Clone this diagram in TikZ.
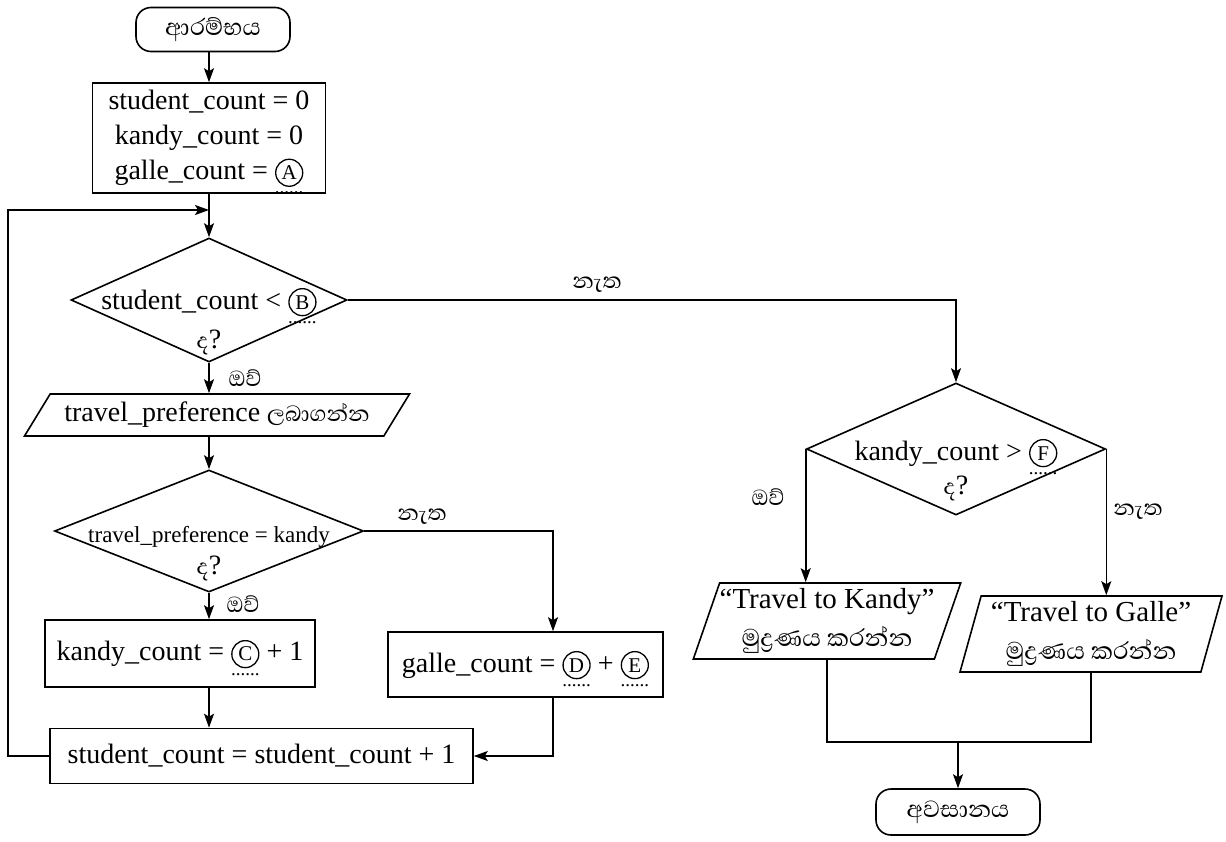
\documentclass[tikz,border=0pt]{standalone}
\usepackage{fontspec}
\setmainfont{Liberation Serif}
\newfontfamily\sinhf[Script=Sinhala]{Abhaya Libre}
\usetikzlibrary{shapes.geometric,arrows.meta}
\newcommand\circl[1]{\tikz[baseline=(cl#1.base)]\node[draw,circle,line width=1.3pt,inner sep=0pt,minimum size=27pt,font=\fontsize{21}{21}\selectfont](cl#1){#1};}
\newcommand\ans[1]{\raisebox{0pt}[\height][0pt]{\vtop{\offinterlineskip\halign{\hfil##\hfil\cr\circl{#1}\cr\noalign{\kern5pt}{\fontsize{19}{19}\selectfont......}\cr}}}}
\tikzset{
 lw/.style={line width=1.6pt},
 base/.style={draw, lw, inner sep=0pt, align=center, font=\fontsize{28}{35}\selectfont},
 term/.style={base, rectangle, rounded corners=15pt, font=\sinhf\fontsize{30}{32}\selectfont},
 proc/.style={base, rectangle},
 dec/.style={draw, lw, diamond, inner sep=0pt},
 io/.style={base, trapezium, trapezium stretches body},
 txt/.style={inner sep=0pt, font=\fontsize{28}{35}\selectfont},
 lab/.style={inner sep=0pt, font=\sinhf\fontsize{28}{30}\selectfont},
 outbox/.style={io, font=\fontsize{29}{38}\selectfont},
 arr/.style={lw, -{Stealth[length=14pt,width=10pt,inset=3pt]}},
 ln/.style={lw},
}
\begin{document}
\begin{tikzpicture}[x=1pt,y=-1pt]
\useasboundingbox (0,0) rectangle (1226,841);
% nodes
\node[term, minimum width=154pt, minimum height=44pt] (start) at (213,29.5) {ආරම්භය};
\node[proc, minimum width=233pt, minimum height=110pt] (init) at (209,138) {student\_count = 0\\kandy\_count = 0\\galle\_count = \ans{A}};
\node[dec, minimum width=276pt, minimum height=124pt] (d1) at (209,300) {};
\node[txt, anchor=base] (d1a) at (209,309) {student\_count < \ans{B}};
\node[txt, anchor=base] (d1b) at (209,348) {{\sinhf ද}?};
\node[io, trapezium left angle=45, trapezium right angle=135, minimum width=385pt, minimum height=42pt] (p1) at (217,415) {travel\_preference {\sinhf ලබාගන්න}};
\node[dec, minimum width=309pt, minimum height=122pt] (d2) at (209,531) {};
\node[txt, anchor=base, font=\fontsize{23}{28}\selectfont] (d2a) at (209,542) {travel\_preference = kandy};
\node[txt, anchor=base] (d2b) at (209,574) {{\sinhf ද}?};
\node[proc, minimum width=270pt, minimum height=67pt] (kbox) at (180,653.5) {kandy\_count = \ans{C} + 1};
\node[proc, minimum width=275pt, minimum height=65pt] (gbox) at (525.5,664.5) {galle\_count = \ans{D} + \ans{E}};
\node[proc, minimum width=423pt, minimum height=55pt] (sbox) at (261.5,756) {student\_count = student\_count + 1};
\node[dec, minimum width=299pt, minimum height=132pt] (d3) at (956,449) {};
\node[txt, anchor=base] (d3a) at (956,460) {kandy\_count > \ans{F}};
\node[txt, anchor=base] (d3b) at (956,494) {{\sinhf ද}?};
\node[outbox, trapezium left angle=68, trapezium right angle=112, minimum width=252pt, minimum height=76pt] (kout) at (827,621) {“Travel to Kandy”\\{\sinhf\fontsize{31}{38}\selectfont මුද්^^^^200dරණය කරන්න}};
\node[outbox, trapezium left angle=72, trapezium right angle=108, minimum width=262pt, minimum height=76pt] (gout) at (1091,634) {“Travel to Galle”\\{\sinhf\fontsize{31}{38}\selectfont මුද්^^^^200dරණය කරන්න}};
\node[term, minimum width=164pt, minimum height=46pt] (end) at (958,812) {අවසානය};
% labels
\node[lab] (y1) at (245,378) {ඔව්};
\node[lab] (n1) at (597,285) {නැත};
\node[lab] (y2) at (243,604) {ඔව්};
\node[lab] (n2) at (422,517) {නැත};
\node[lab] (y3) at (768,497) {ඔව්};
\node[lab] (n3) at (1138,512) {නැත};
% helper coordinates
\coordinate (loopin) at (209,210);
\coordinate (loopx) at (8,0);
\coordinate (gx) at (553,0);
\coordinate (merge) at (958,742);
% connectors
\draw[arr] (start.south -| init.north) -- (init.north);
\draw[arr] (init.south) -- (d1.north);
\draw[arr] (sbox.west) -- (sbox.west -| loopx) |- (loopin);
\draw[arr] (d1.south) -- (d1.south |- p1.north);
\draw[arr] (p1.south -| d2.north) -- (d2.north);
\draw[arr] (d2.south) -- (d2.south |- kbox.north);
\draw[arr] (kbox.south -| d2.south) -- (d2.south |- sbox.north);
\draw[arr] (d2.east) -| (gx |- gbox.north);
\draw[arr] (gx |- gbox.south) |- (sbox.east);
\draw[arr] (d1.east) -| (d3.north);
\draw[arr] (d3.west) -- (d3.west |- kout.north);
\draw[arr] (d3.east) -- (d3.east |- gout.north);
\draw[ln] (kout.south) |- (merge) -| (gout.south);
\draw[arr] (merge) -- (end.north);
\end{tikzpicture}
\end{document}
